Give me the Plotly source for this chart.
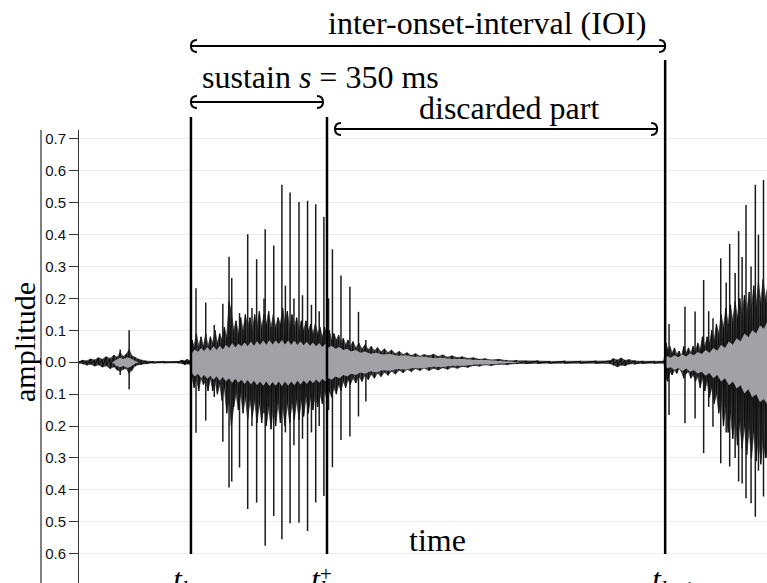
import plotly.graph_objects as go

# ---------------- data (time in ms, amplitude) ----------------
t_k = 288          # onset k
t_k_plus = 638     # t_k + sustain (350 ms)
t_k1 = 1508        # onset k+1
x_range = [0, 1770]
y_range = [-0.692, 0.728]

y_ticks = [0.7, 0.6, 0.5, 0.4, 0.3, 0.2, 0.1, 0.0, -0.1, -0.2, -0.3, -0.4, -0.5, -0.6]
y_tick_labels = ["0.7", "0.6", "0.5", "0.4", "0.3", "0.2", "0.1", "0.0",
                 "0.1", "0.2", "0.3", "0.4", "0.5", "0.6"]

# outer envelope (max / min per column), before onset k
pre_t = [0, 10, 20, 30, 40, 50, 60, 70, 80, 90, 98, 106, 114, 122, 129, 136, 144, 152,
         160, 172, 190, 220, 255, 266, 272, 278, 284, 288]
pre_hi = [0.002, 0.006, 0.004, 0.01, 0.007, 0.014, 0.009, 0.017, 0.012, 0.022, 0.016, 0.03,
          0.018, 0.026, 0.04, 0.02, 0.016, 0.01, 0.007, 0.004, 0.002, 0.0015, 0.002, 0.006,
          0.004, 0.009, 0.004, 0.003]
pre_lo = [-0.002, -0.005, -0.009, -0.006, -0.012, -0.008, -0.015, -0.011, -0.02, -0.014,
          -0.024, -0.028, -0.022, -0.02, -0.035, -0.026, -0.012, -0.008, -0.006, -0.004,
          -0.002, -0.0015, -0.002, -0.004, -0.008, -0.005, -0.006, -0.003]

# outer envelope of note k (attack, sustain, decay, silence)
note_t = [291, 296, 302, 308, 314, 320, 326, 332, 338, 344,
          350, 356, 362, 368, 374, 380, 386, 392, 398, 404,
          410, 416, 422, 428, 434, 440, 446, 452, 458, 464,
          470, 476, 482, 488, 494, 500, 506, 512, 518, 524,
          530, 536, 542, 548, 554, 560, 566, 572, 578, 584,
          590, 596, 602, 608, 614, 620, 626, 632, 638, 644,
          650, 656, 662, 668, 674, 680, 686, 692, 698, 705,
          712, 720, 728, 736, 744, 752, 760, 768, 777, 786,
          795, 804, 814, 824, 834, 844, 855, 866, 877, 888,
          900, 912, 924, 936, 948, 960, 973, 986, 1000, 1015,
          1030, 1045, 1060, 1080, 1100, 1125, 1150, 1180, 1210, 1250,
          1290, 1330, 1365, 1375, 1385, 1395, 1405, 1415, 1430, 1450,
          1480, 1505]
note_hi = [0.07, 0.05, 0.09, 0.05, 0.08, 0.05, 0.09, 0.05, 0.08, 0.06,
           0.10, 0.06, 0.09, 0.07, 0.11, 0.08, 0.19, 0.16, 0.10, 0.13,
           0.09, 0.14, 0.10, 0.15, 0.11, 0.14, 0.10, 0.15, 0.11, 0.16,
           0.11, 0.15, 0.12, 0.16, 0.11, 0.15, 0.11, 0.14, 0.12, 0.17,
           0.12, 0.16, 0.11, 0.15, 0.11, 0.14, 0.10, 0.13, 0.10, 0.13,
           0.10, 0.12, 0.09, 0.12, 0.09, 0.11, 0.08, 0.11, 0.08, 0.10,
           0.07, 0.09, 0.07, 0.085, 0.06, 0.075, 0.055, 0.07, 0.05, 0.065,
           0.045, 0.06, 0.042, 0.055, 0.04, 0.05, 0.036, 0.046, 0.033, 0.042,
           0.03, 0.038, 0.027, 0.034, 0.024, 0.03, 0.021, 0.027, 0.019, 0.024,
           0.02, 0.025, 0.018, 0.023, 0.016, 0.02, 0.014, 0.017, 0.012, 0.014,
           0.009, 0.011, 0.007, 0.009, 0.005, 0.005, 0.003, 0.004, 0.0025, 0.003,
           0.0025, 0.003, 0.004, 0.011, 0.007, 0.013, 0.006, 0.008, 0.004, 0.003,
           0.0025, 0.003]
note_lo = [-0.05, -0.08, -0.05, -0.09, -0.05, -0.07, -0.06, -0.09, -0.05, -0.09,
           -0.06, -0.10, -0.07, -0.12, -0.08, -0.16, -0.12, -0.20, -0.14, -0.10,
           -0.15, -0.10, -0.16, -0.11, -0.18, -0.12, -0.17, -0.12, -0.19, -0.13,
           -0.19, -0.13, -0.20, -0.14, -0.21, -0.14, -0.20, -0.13, -0.19, -0.14,
           -0.20, -0.13, -0.19, -0.13, -0.18, -0.12, -0.18, -0.12, -0.17, -0.11,
           -0.16, -0.11, -0.15, -0.10, -0.14, -0.10, -0.13, -0.09, -0.12, -0.09,
           -0.11, -0.08, -0.10, -0.07, -0.09, -0.06, -0.08, -0.055, -0.07, -0.05,
           -0.065, -0.045, -0.06, -0.04, -0.055, -0.038, -0.05, -0.034, -0.045, -0.031,
           -0.041, -0.028, -0.037, -0.025, -0.033, -0.022, -0.029, -0.02, -0.026, -0.018,
           -0.026, -0.019, -0.024, -0.017, -0.022, -0.015, -0.019, -0.013, -0.016, -0.01,
           -0.012, -0.008, -0.01, -0.006, -0.007, -0.004, -0.004, -0.003, -0.0025, -0.003,
           -0.0025, -0.003, -0.004, -0.008, -0.014, -0.009, -0.011, -0.005, -0.005, -0.003,
           -0.0025, -0.003]

# outer envelope of note k+1
next_t = [1510, 1515, 1520, 1526, 1532, 1538, 1544, 1550, 1556, 1562,
          1568, 1574, 1580, 1586, 1592, 1598, 1604, 1610, 1616, 1622,
          1628, 1634, 1640, 1646, 1652, 1658, 1664, 1670, 1676, 1682,
          1688, 1694, 1700, 1706, 1712, 1718, 1724, 1730, 1736, 1742,
          1748, 1754, 1760, 1766, 1772]
next_hi = [0.06, 0.04, 0.05, 0.03, 0.045, 0.025, 0.035, 0.02, 0.05, 0.03,
           0.045, 0.03, 0.05, 0.035, 0.06, 0.04, 0.08, 0.05, 0.08, 0.06,
           0.10, 0.07, 0.12, 0.09, 0.15, 0.11, 0.17, 0.12, 0.18, 0.13,
           0.19, 0.14, 0.20, 0.15, 0.21, 0.16, 0.22, 0.17, 0.24, 0.18,
           0.25, 0.19, 0.26, 0.20, 0.24]
next_lo = [-0.05, -0.06, -0.03, -0.04, -0.025, -0.035, -0.02, -0.03, -0.05, -0.035,
           -0.03, -0.05, -0.04, -0.06, -0.045, -0.08, -0.05, -0.09, -0.06, -0.11,
           -0.08, -0.13, -0.10, -0.16, -0.12, -0.20, -0.14, -0.22, -0.16, -0.24,
           -0.18, -0.26, -0.19, -0.27, -0.20, -0.29, -0.21, -0.30, -0.22, -0.31,
           -0.23, -0.32, -0.24, -0.30, -0.27]

# grey body of the waveform
body_pre_t = [85, 95, 105, 115, 125, 133, 145, 155]
body_pre_hi = [0, 0.008, 0.014, 0.01, 0.016, 0.012, 0.004, 0]
body_pre_lo = [0, -0.01, -0.016, -0.012, -0.018, -0.014, -0.004, 0]

body_note_t = [288, 291, 298, 306, 314, 322, 330, 338, 346, 354,
               362, 370, 378, 386, 394, 402, 410, 418, 426, 434,
               442, 450, 458, 466, 474, 482, 490, 498, 506, 514,
               522, 530, 538, 546, 554, 562, 570, 578, 586, 594,
               602, 610, 618, 626, 634, 642, 650, 660, 670, 680,
               690, 700, 712, 724, 736, 750, 765, 780, 800, 820,
               840, 860, 885, 910, 935, 960, 990, 1020, 1050, 1080,
               1110, 1140]
body_note_hi = [0, 0.03, 0.04, 0.032, 0.045, 0.035, 0.048, 0.036, 0.05, 0.038,
                0.052, 0.04, 0.055, 0.045, 0.06, 0.047, 0.058, 0.05, 0.062, 0.05,
                0.065, 0.052, 0.066, 0.054, 0.068, 0.055, 0.07, 0.056, 0.068, 0.057,
                0.07, 0.056, 0.068, 0.055, 0.067, 0.054, 0.066, 0.053, 0.064, 0.052,
                0.062, 0.05, 0.06, 0.048, 0.058, 0.046, 0.052, 0.042, 0.048, 0.038,
                0.042, 0.034, 0.038, 0.03, 0.034, 0.027, 0.03, 0.024, 0.026, 0.02,
                0.022, 0.017, 0.018, 0.013, 0.014, 0.01, 0.01, 0.007, 0.007, 0.004,
                0.003, 0]
body_note_lo = [0, -0.035, -0.045, -0.036, -0.05, -0.04, -0.052, -0.042, -0.055, -0.044,
                -0.058, -0.046, -0.06, -0.05, -0.065, -0.052, -0.064, -0.055, -0.068, -0.056,
                -0.07, -0.058, -0.072, -0.06, -0.074, -0.06, -0.075, -0.062, -0.074, -0.06,
                -0.075, -0.06, -0.074, -0.06, -0.072, -0.058, -0.07, -0.057, -0.068, -0.056,
                -0.066, -0.054, -0.064, -0.052, -0.06, -0.05, -0.055, -0.045, -0.05, -0.04,
                -0.045, -0.036, -0.04, -0.032, -0.036, -0.028, -0.032, -0.025, -0.027, -0.021,
                -0.023, -0.018, -0.019, -0.014, -0.015, -0.011, -0.011, -0.007, -0.007, -0.004,
                -0.003, 0]

body_next_t = [1508, 1512, 1522, 1532, 1542, 1552, 1562, 1572, 1582, 1592,
               1602, 1612, 1622, 1632, 1642, 1652, 1662, 1672, 1682, 1692,
               1702, 1712, 1722, 1732, 1742, 1752, 1762, 1772]
body_next_hi = [0, 0.02, 0.014, 0.022, 0.016, 0.025, 0.018, 0.028, 0.022, 0.032,
                0.026, 0.038, 0.03, 0.045, 0.036, 0.055, 0.045, 0.065, 0.055, 0.075,
                0.065, 0.09, 0.078, 0.1, 0.09, 0.115, 0.105, 0.13]
body_next_lo = [0, -0.02, -0.016, -0.024, -0.018, -0.028, -0.02, -0.03, -0.025, -0.035,
                -0.03, -0.042, -0.034, -0.05, -0.04, -0.06, -0.05, -0.072, -0.06, -0.082,
                -0.072, -0.098, -0.085, -0.11, -0.1, -0.125, -0.115, -0.135]

# individual peaks (time, max, min)
spike_t = [106, 129,
           301, 326, 348, 370, 386, 393, 413, 434, 457, 479, 501, 522, 543, 566, 588, 609,
           630, 652, 674, 697, 719, 738,
           445, 476, 531, 553, 575, 598, 618, 642,
           1518, 1559, 1585, 1607, 1631, 1651, 1674, 1697, 1716, 1729, 1740, 1761, 1770,
           1620, 1665, 1688, 1706, 1748]
spike_hi = [0.04, 0.10,
            0.232, 0.187, 0.117, 0.183, 0.331, 0.264, 0.154, 0.401, 0.323, 0.417, 0.366,
            0.556, 0.532, 0.502, 0.506, 0.495, 0.455, 0.354, 0.272, 0.237, 0.158, 0.07,
            0.17, 0.2, 0.24, 0.2, 0.21, 0.18, 0.16, 0.2,
            0.12, 0.174, 0.159, 0.258, 0.138, 0.326, 0.371, 0.411, 0.493, 0.30, 0.556,
            0.571, 0.186,
            0.16, 0.25, 0.28, 0.33, 0.4]
spike_lo = [-0.04, -0.085,
            -0.221, -0.183, -0.109, -0.249, -0.393, -0.374, -0.330, -0.46, -0.44, -0.575,
            -0.482, -0.555, -0.505, -0.503, -0.529, -0.44, -0.419, -0.329, -0.244, -0.233,
            -0.17, -0.123,
            -0.2, -0.16, -0.22, -0.26, -0.24, -0.22, -0.2, -0.15,
            -0.165, -0.191, -0.176, -0.285, -0.202, -0.317, -0.327, -0.374, -0.426, -0.442,
            -0.484, -0.421, -0.30,
            -0.14, -0.22, -0.3, -0.38, -0.34]

# ---------------- layout constants ----------------
W, H = 767, 583
ML, MT = 79, 130
PW, PH = W - ML, H - MT
SERIF = "Liberation Serif"


def xp(px):            # pixel -> paper x
    return (px - ML) / PW


def yp(py):            # pixel -> paper y
    return (H - py) / PH


def dx(px):            # pixel length -> ms
    return px * (x_range[1] - x_range[0]) / PW


def dy(px):            # pixel length -> paper
    return px / PH


outer_t = pre_t + note_t + next_t
outer_hi = pre_hi + note_hi + next_hi
outer_lo = pre_lo + note_lo + next_lo
inner_t = body_pre_t + body_note_t + body_next_t
inner_hi = body_pre_hi + body_note_hi + body_next_hi
inner_lo = body_pre_lo + body_note_lo + body_next_lo
assert len(outer_t) == len(outer_hi) == len(outer_lo)
assert len(inner_t) == len(inner_hi) == len(inner_lo)
assert len(spike_t) == len(spike_hi) == len(spike_lo)

fig = go.Figure()

# dark envelope
fig.add_trace(go.Scatter(
    x=outer_t + outer_t[::-1], y=outer_hi + outer_lo[::-1],
    mode="lines", fill="toself", fillcolor="#454547",
    line=dict(color="#1a1a1a", width=0.6), hoverinfo="skip"))

# waveform drawn as min/max strokes
hx, hy = [], []
for t, hi, lo in zip(outer_t, outer_hi, outer_lo):
    hx += [t, t]
    hy += [hi, lo]
fig.add_trace(go.Scatter(x=hx, y=hy, mode="lines",
                         line=dict(color="#0d0d0d", width=1.2), hoverinfo="skip"))

sx, sy = [], []
for t, hi, lo in zip(spike_t, spike_hi, spike_lo):
    sx += [t, t, None]
    sy += [lo, hi, None]
fig.add_trace(go.Scatter(x=sx, y=sy, mode="lines",
                         line=dict(color="#1c1c1c", width=1.5), hoverinfo="skip"))

fig.add_trace(go.Scatter(
    x=inner_t + inner_t[::-1], y=inner_hi + inner_lo[::-1],
    mode="lines", fill="toself", fillcolor="#a2a1a6",
    line=dict(color="#a2a1a6", width=0), hoverinfo="skip"))

shapes = []
# left frame line
shapes.append(dict(type="line", xref="paper", yref="paper", x0=xp(41), x1=xp(41),
                   y0=0, y1=1, line=dict(color="black", width=1)))
# event lines
for t, top in [(t_k, 117), (t_k_plus, 117), (t_k1, 60)]:
    shapes.append(dict(type="line", xref="x", yref="paper", x0=t, x1=t,
                       y0=yp(554), y1=yp(top), line=dict(color="black", width=2.5),
                       layer="above"))


def hook_arrow(t0, t1, y):
    w, h = dx(6), dy(6)
    p = f"M {t0},{y} L {t1},{y} "
    p += (f"M {t0 + w},{y + h} C {t0 + dx(1.5)},{y + h} {t0},{y + dy(3)} {t0},{y} "
          f"C {t0},{y - dy(3)} {t0 + dx(1.5)},{y - h} {t0 + w},{y - h} ")
    p += (f"M {t1 - w},{y + h} C {t1 - dx(1.5)},{y + h} {t1},{y + dy(3)} {t1},{y} "
          f"C {t1},{y - dy(3)} {t1 - dx(1.5)},{y - h} {t1 - w},{y - h}")
    return dict(type="path", xref="x", yref="paper", path=p,
                line=dict(color="black", width=2), layer="above")


shapes.append(hook_arrow(t_k, t_k1, yp(46)))
shapes.append(hook_arrow(t_k, t_k_plus - dx(4), yp(102)))
shapes.append(hook_arrow(t_k_plus + dx(8), t_k1 - dx(8), yp(129)))

big = dict(family=SERIF, size=32, color="black")
annotations = [
    dict(text="inter-onset-interval (IOI)", x=xp(487), y=yp(23)),
    dict(text="sustain <i>s</i> = 350 ms", x=xp(320), y=yp(77)),
    dict(text="discarded part", x=xp(509), y=yp(108)),
    dict(text="time", x=xp(437), y=yp(540)),
    dict(text="amplitude", x=xp(24), y=yp(342), textangle=-90,
         font=dict(family=SERIF, size=30, color="black")),
]
for a in annotations:
    a.setdefault("font", big)
    a.update(xref="paper", yref="paper", showarrow=False,
             xanchor="center", yanchor="middle")

tick_lbls = [
    dict(text="<i>t</i><sub><i>k</i></sub>", x=t_k, xshift=-8),
    dict(text="<i>t</i><sub><i>k</i></sub>", x=t_k_plus, xshift=-6),
    dict(text="<i>t</i><sub><i>k</i>+1</sub>", x=t_k1, xshift=8),
]
for a in tick_lbls:
    a.update(xref="x", yref="paper", y=yp(559), showarrow=False, font=big,
             xanchor="center", yanchor="top")
annotations += tick_lbls
annotations.append(dict(text="+", x=t_k_plus, xshift=-1, xref="x", yref="paper",
                        y=yp(574), showarrow=False, xanchor="center", yanchor="middle",
                        font=dict(family=SERIF, size=21, color="black")))
# partially visible bottom tick label
annotations.append(dict(text="0.7", xref="paper", x=xp(66), xanchor="right",
                        yref="y", y=-0.7, yanchor="middle", showarrow=False,
                        font=dict(family="Liberation Sans", size=15, color="#111")))

fig.update_layout(
    width=W, height=H, autosize=False,
    margin=dict(l=ML, r=0, t=MT, b=0, pad=0),
    plot_bgcolor="white", paper_bgcolor="white", showlegend=False,
    xaxis=dict(range=x_range, visible=False, automargin=False),
    yaxis=dict(range=y_range, tickvals=y_ticks, ticktext=y_tick_labels, automargin=False,
               showgrid=True, gridcolor="#ececec", gridwidth=1, zeroline=False,
               showline=True, linecolor="#333333", linewidth=1,
               ticks="outside", ticklen=9, tickcolor="#333333", tickwidth=1,
               tickfont=dict(family="Liberation Sans", size=15, color="#111")),
    shapes=shapes, annotations=annotations,
)

fig.write_html("out.html",
               config={"displayModeBar": False, "staticPlot": True},
               post_script="document.body.style.margin='0';"
                           "document.body.style.overflow='hidden';")
